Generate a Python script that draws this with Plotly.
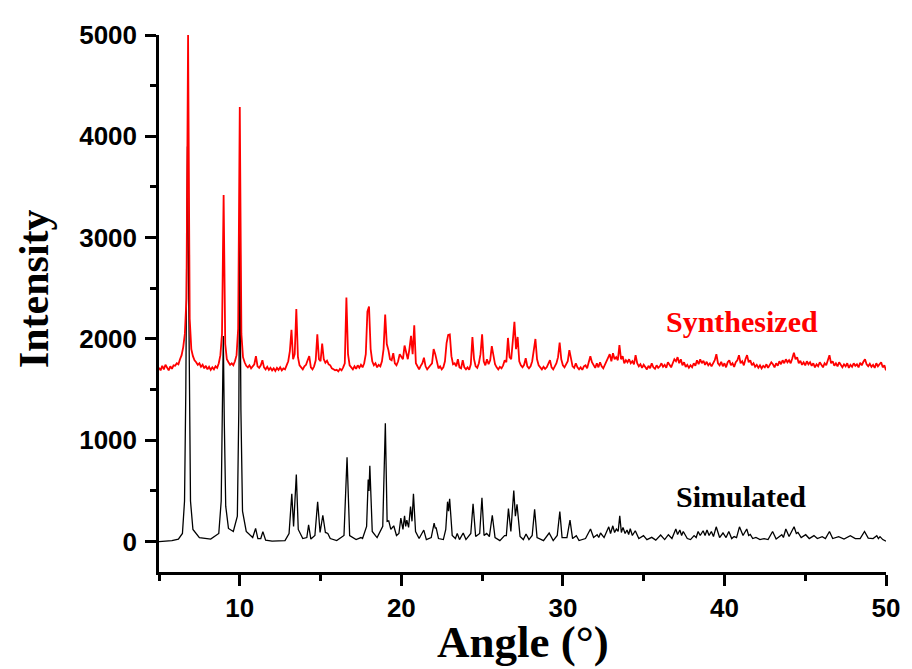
import plotly.graph_objects as go

# ---------------- Simulated pattern: (2theta, intensity)
simulated_points = [
    (5.0, 0), (5.8, 10), (6.2, 25), (6.45, 80), (6.58, 400), (6.66, 1500), (6.76, 3900),
    (6.86, 1500), (6.95, 400), (7.1, 120), (7.5, 40), (8.2, 25), (8.7, 80), (8.85, 400),
    (8.93, 1200), (8.98, 2030), (9.04, 1200), (9.13, 350), (9.3, 130), (9.6, 100), (9.85, 250),
    (9.94, 1300), (10.0, 3070), (10.07, 1300), (10.17, 300), (10.4, 100), (10.8, 40),
    (10.98, 130), (11.12, 30), (11.3, 30), (11.43, 98), (11.6, 15), (12.0, 5), (12.8, 10),
    (13.05, 80), (13.22, 472), (13.33, 150), (13.5, 661), (13.62, 120), (13.9, 30), (14.15, 40),
    (14.26, 166), (14.4, 25), (14.65, 60), (14.82, 394), (14.97, 90), (15.14, 260), (15.3, 90),
    (15.45, 81), (15.6, 30), (16.0, 10), (16.45, 60), (16.64, 833), (16.8, 60), (17.2, 20),
    (17.5, 40), (17.6, 30), (17.85, 150), (17.95, 612), (18.0, 500), (18.05, 749), (18.2, 100),
    (18.4, 59), (18.5, 40), (18.85, 150), (19.01, 1169), (19.12, 200), (19.22, 205), (19.35, 120),
    (19.53, 156), (19.7, 60), (19.85, 80), (19.97, 231), (20.1, 120), (20.2, 254), (20.27, 150),
    (20.34, 212), (20.45, 140), (20.57, 345), (20.66, 200), (20.75, 472), (20.88, 100),
    (21.1, 30), (21.39, 114), (21.55, 20), (21.85, 40), (22.03, 183), (22.1, 130), (22.15, 140),
    (22.3, 30), (22.6, 20), (22.75, 120), (22.86, 394), (22.92, 300), (22.99, 423), (23.15, 60),
    (23.35, 30), (23.46, 81), (23.6, 20), (23.83, 85), (24.0, 20), (24.3, 80), (24.44, 374),
    (24.6, 50), (24.85, 80), (24.99, 433), (25.12, 60), (25.28, 81), (25.45, 50), (25.63, 260),
    (25.8, 40), (26.1, 10), (26.39, 59), (26.5, 60), (26.63, 325), (26.78, 100), (26.96, 505),
    (27.06, 250), (27.16, 368), (27.35, 50), (27.55, 20), (27.72, 75), (27.9, 20), (28.1, 60),
    (28.25, 319), (28.4, 40), (28.8, 10), (29.15, 85), (29.4, 10), (29.65, 60), (29.81, 296),
    (29.95, 40), (30.25, 40), (30.44, 212), (30.6, 30), (30.83, 59), (31.0, 10), (31.4, 30),
    (31.71, 124), (31.9, 40), (32.12, 68), (32.22, 40), (32.33, 85), (32.55, 40), (32.84, 146),
    (32.95, 80), (33.09, 156), (33.2, 90), (33.31, 124), (33.42, 100), (33.52, 254), (33.62, 90),
    (33.72, 140), (33.85, 80), (33.97, 114), (34.07, 70), (34.17, 127), (34.3, 60), (34.48, 107),
    (34.7, 30), (34.99, 59), (35.2, 20), (35.5, 42), (35.75, 15), (36.05, 65), (36.3, 20),
    (36.53, 68), (36.75, 30), (36.99, 124), (37.1, 70), (37.24, 114), (37.35, 60), (37.45, 100),
    (37.7, 30), (37.9, 20), (38.12, 59), (38.25, 40), (38.37, 100), (38.5, 60), (38.68, 107),
    (38.8, 60), (38.92, 114), (39.05, 60), (39.19, 100), (39.32, 50), (39.49, 146), (39.7, 40),
    (39.91, 85), (40.1, 40), (40.27, 100), (40.45, 30), (40.6, 50), (40.75, 40), (40.93, 146),
    (41.15, 60), (41.38, 124), (41.5, 60), (41.6, 70), (41.75, 30), (41.95, 42), (42.2, 20),
    (42.45, 30), (42.7, 20), (42.98, 100), (43.2, 25), (43.55, 68), (43.65, 40), (43.8, 124),
    (44.0, 50), (44.31, 146), (44.45, 80), (44.55, 90), (44.75, 40), (45.03, 68), (45.25, 30),
    (45.54, 59), (45.75, 30), (46.05, 49), (46.25, 30), (46.5, 100), (46.7, 30), (47.07, 49),
    (47.4, 25), (47.79, 59), (48.1, 30), (48.4, 30), (48.67, 100), (48.9, 35), (49.2, 30),
    (49.43, 59), (49.53, 30), (49.63, 49), (49.8, 20), (50.0, 5),
]
sim_angle = [p[0] for p in simulated_points]
sim_intensity = [p[1] for p in simulated_points]

# ---------------- Synthesized pattern: intensity every 0.1 deg from 5.0 to 50.0
syn_intensity = [
    1715, 1690, 1735, 1700, 1745, 1710, 1690, 1730, 1705, 1740,   # 5
    1735, 1760, 1750, 1800, 1840, 1920, 2050, 2400, 5000, 2200,   # 6
    1900, 1830, 1790, 1770, 1745, 1760, 1725, 1745, 1710, 1735,   # 7
    1700, 1725, 1695, 1720, 1700, 1730, 1715, 1760, 1840, 2050,   # 8
    3420, 1950, 1800, 1770, 1745, 1760, 1740, 1780, 1840, 2100,   # 9
    4290, 2050, 1820, 1770, 1735, 1720, 1740, 1710, 1735, 1750,   # 10
    1830, 1730, 1715, 1740, 1790, 1720, 1700, 1725, 1695, 1715,   # 11
    1690, 1710, 1685, 1715, 1695, 1720, 1690, 1710, 1700, 1740,   # 12
    1780, 1880, 2090, 1800, 1850, 2295, 1820, 1740, 1720, 1700,   # 13
    1730, 1745, 1790, 1830, 1720, 1700, 1730, 1790, 2045, 1800,   # 14
    1780, 1955, 1800, 1765, 1785, 1750, 1740, 1710, 1700, 1690,   # 15
    1695, 1680, 1705, 1690, 1720, 1760, 2410, 1850, 1740, 1720,   # 16
    1700, 1730, 1705, 1740, 1715, 1745, 1720, 1760, 1850, 2270,   # 17
    2320, 1900, 1780, 1740, 1760, 1720, 1745, 1730, 1780, 1900,   # 18
    2240, 1950, 1890, 1800, 1790, 1860, 1760, 1740, 1780, 1850,   # 19
    1830, 1800, 1935, 1850, 1800, 1900, 2030, 1850, 2135, 1760,   # 20
    1720, 1700, 1735, 1760, 1815, 1730, 1700, 1715, 1740, 1760,   # 21
    1900, 1850, 1760, 1710, 1730, 1700, 1720, 1780, 1960, 2040,   # 22
    2045, 1830, 1750, 1760, 1730, 1800, 1720, 1710, 1790, 1720,   # 23
    1700, 1720, 1695, 1750, 2020, 1800, 1730, 1715, 1760, 1850,   # 24
    2045, 1780, 1740, 1800, 1750, 1790, 1930, 1840, 1750, 1720,   # 25
    1700, 1725, 1710, 1740, 1790, 1770, 2010, 1820, 1800, 1980,   # 26
    2170, 1900, 2020, 1780, 1740, 1720, 1745, 1810, 1730, 1710,   # 27
    1730, 1780, 1900, 2000, 1800, 1740, 1720, 1700, 1725, 1705,   # 28
    1720, 1760, 1790, 1720, 1700, 1730, 1760, 1820, 1965, 1800,   # 29
    1740, 1720, 1745, 1780, 1890, 1800, 1730, 1715, 1760, 1720,   # 30
    1700, 1720, 1695, 1730, 1740, 1710, 1760, 1830, 1770, 1745,   # 31
    1715, 1760, 1720, 1770, 1730, 1710, 1745, 1770, 1800, 1850,   # 32
    1780, 1860, 1800, 1820, 1790, 1940, 1800, 1830, 1760, 1790,   # 33
    1770, 1800, 1760, 1780, 1750, 1840, 1760, 1730, 1750, 1715,   # 34
    1745, 1720, 1700, 1735, 1710, 1760, 1720, 1705, 1740, 1715,   # 35
    1730, 1760, 1725, 1745, 1715, 1770, 1740, 1720, 1760, 1800,   # 36
    1780, 1820, 1760, 1800, 1740, 1770, 1725, 1745, 1715, 1740,   # 37
    1720, 1760, 1735, 1790, 1750, 1800, 1760, 1785, 1745, 1775,   # 38
    1740, 1760, 1730, 1770, 1790, 1850, 1760, 1740, 1775, 1730,   # 39
    1760, 1720, 1770, 1790, 1740, 1760, 1725, 1770, 1790, 1840,   # 40
    1760, 1780, 1740, 1800, 1840, 1770, 1790, 1740, 1760, 1725,   # 41
    1745, 1715, 1740, 1710, 1735, 1720, 1750, 1715, 1740, 1770,   # 42
    1750, 1720, 1760, 1735, 1780, 1750, 1790, 1760, 1800, 1770,   # 43
    1790, 1760, 1810, 1865, 1800, 1820, 1760, 1785, 1745, 1770,   # 44
    1740, 1780, 1750, 1770, 1735, 1760, 1720, 1750, 1730, 1770,   # 45
    1745, 1720, 1760, 1740, 1790, 1840, 1760, 1780, 1735, 1760,   # 46
    1730, 1770, 1745, 1720, 1750, 1730, 1760, 1715, 1745, 1725,   # 47
    1760, 1735, 1750, 1720, 1765, 1740, 1775, 1800, 1750, 1730,   # 48
    1755, 1725, 1745, 1715, 1760, 1730, 1750, 1770, 1720, 1740,   # 49
    1690,                                                          # 50
]
syn_step = 0.1
syn_angle = [round(5.0 + syn_step * i, 2) for i in range(len(syn_intensity))]

x_ticks = [10, 20, 30, 40, 50]
y_ticks = [0, 1000, 2000, 3000, 4000, 5000]
labels = {"synthesized": "Synthesized", "simulated": "Simulated"}

fig = go.Figure()
fig.add_trace(go.Scatter(x=sim_angle, y=sim_intensity, mode="lines",
                         line=dict(color="black", width=1.3), name="Simulated"))
fig.add_trace(go.Scatter(x=syn_angle, y=syn_intensity, mode="lines",
                         line=dict(color="#ff0000", width=1.8), name="Synthesized"))

tickfont = dict(family="Liberation Sans", size=26, color="black", weight="bold")
serif_bold = dict(family="Liberation Serif", color="black", weight="bold")

fig.update_layout(
    width=904, height=661,
    margin=dict(l=151, r=21, t=21, b=97),
    plot_bgcolor="white", paper_bgcolor="white",
    showlegend=False,
    xaxis=dict(range=[5, 50], tickvals=x_ticks, ticktext=[str(v) for v in x_ticks],
               showline=True, linecolor="black", linewidth=2.5, mirror=False,
               ticks="outside", ticklen=11, tickwidth=2.5, tickcolor="black",
               minor=dict(dtick=5, tick0=5, ticks="outside", ticklen=6, tickwidth=2.5, tickcolor="black"),
               showgrid=False, zeroline=False, tickfont=tickfont),
    yaxis=dict(range=[-300, 5000], tickvals=y_ticks, ticktext=[str(v) for v in y_ticks],
               showline=True, linecolor="black", linewidth=2.5, mirror=False,
               ticks="outside", ticklen=11, tickwidth=2.5, tickcolor="black",
               minor=dict(dtick=500, tick0=0, ticks="outside", ticklen=6, tickwidth=2.5, tickcolor="black"),
               showgrid=False, zeroline=False, tickfont=tickfont, ticklabelstandoff=3),
    annotations=[
        dict(text="Intensity", xref="paper", yref="paper", x=-0.172, y=0.5285,
             textangle=-90, showarrow=False, font=dict(size=42, **serif_bold),
             xanchor="center", yanchor="middle"),
        dict(text="Angle (°)", xref="paper", yref="paper", x=0.5, y=-0.1305,
             showarrow=False, font=dict(size=45, **serif_bold),
             xanchor="center", yanchor="middle"),
        dict(text=labels["synthesized"], x=41.1, y=2170, xref="x", yref="y",
             showarrow=False, font=dict(size=30, family="Liberation Serif", color="#ff0000", weight="bold"),
             xanchor="center", yanchor="middle"),
        dict(text=labels["simulated"], x=41.05, y=449, xref="x", yref="y",
             showarrow=False, font=dict(size=30, **serif_bold),
             xanchor="center", yanchor="middle"),
    ],
)

fig.write_html("out.html")
